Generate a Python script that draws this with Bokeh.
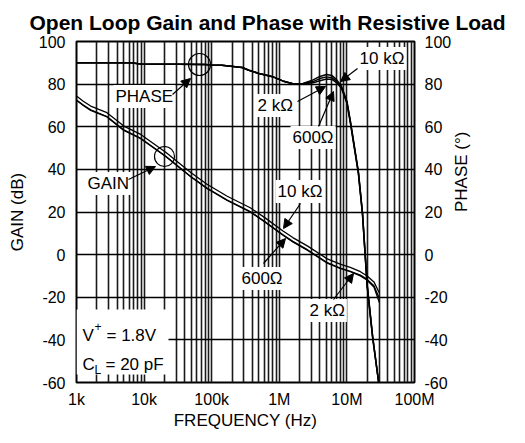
import math
import numpy as np
from bokeh.plotting import figure
from bokeh.models import (Range1d, LinearAxis, FixedTicker, Label, Arrow, NormalHead,
                          BoxAnnotation)
from bokeh.embed import file_html
from bokeh.resources import INLINE

# ---------------- data ----------------
freq_ticks = [1e3, 1e4, 1e5, 1e6, 1e7, 1e8]
freq_tick_labels = ["1k", "10k", "100k", "1M", "10M", "100M"]
y_ticks = [-60, -40, -20, 0, 20, 40, 60, 80, 100]
y_tick_labels = ["-60", "-40", "-20", "0", "20", "40", "60", "80", "100"]

phase_logf = [3.0, 3.8, 3.95, 4.5, 4.9, 5.0, 5.15, 5.25, 5.45, 5.55, 5.7, 5.9, 6.05, 6.2,
              6.35, 6.5, 6.6, 6.7, 6.78, 6.85, 6.92, 7.0, 7.05, 7.1, 7.17, 7.23, 7.30, 7.38, 7.47]
phase_10k = [90, 90, 89.4, 89.3, 89.2, 89.0, 88.8, 88.5, 87.8, 86.5, 85.0, 83.5, 81.5, 80.2,
             80.3, 82.0, 83.6, 84.5, 84.0, 82.0, 79.0, 72.0, 63.0, 53.0, 39.0, 20.0, -14.0, -38.0, -60.0]
phase_2k = [90, 90, 89.4, 89.3, 89.2, 89.0, 88.8, 88.5, 87.8, 86.5, 85.0, 83.5, 81.5, 80.2,
            80.2, 81.2, 82.6, 83.4, 83.0, 81.2, 78.5, 71.5, 62.5, 52.5, 38.5, 19.5, -14.5, -38.5, -60.0]
phase_600 = [90, 90, 89.4, 89.3, 89.2, 89.0, 88.8, 88.5, 87.8, 86.5, 85.0, 83.5, 81.5, 80.2,
             80.0, 80.6, 81.6, 82.4, 82.2, 80.6, 78.0, 71.0, 62.0, 52.0, 38.0, 19.0, -15.0, -39.0, -60.0]

gain_logf = [3.0, 3.1, 3.21, 3.45, 3.7, 3.95, 4.32, 4.69, 4.93, 5.23, 5.57, 5.8, 6.06,
             6.2, 6.42, 6.71, 6.9, 7.05, 7.2, 7.3, 7.4, 7.48]
gain_10k = [74.4, 72.0, 69.7, 66.6, 60.3, 56.4, 48.0, 38.5, 33.0, 27.4, 22.0, 17.0, 11.0,
            8.0, 4.0, -2.0, -4.5, -6.0, -8.0, -10.0, -12.8, -18.0]
gain_2k = [72.6, 70.2, 67.9, 64.8, 58.5, 54.6, 46.2, 36.7, 31.2, 25.6, 20.2, 15.2, 9.2,
           6.2, 2.2, -3.8, -6.3, -7.8, -9.6, -11.6, -14.6, -20.5]
gain_600 = [72.4, 70.0, 67.7, 64.6, 58.3, 54.4, 46.0, 36.5, 31.0, 25.4, 20.0, 15.0, 9.0,
            6.0, 2.0, -4.0, -6.5, -8.0, -10.0, -12.0, -15.2, -22.5]

FL, FR, FT, FB = 76.0, 414.0, 40.0, 381.0
def fx(px):
    return 10 ** (3 + 5 * (px - FL) / (FR - FL))
def vy(py):
    return 100 - 160 * (py - FT) / (FB - FT)

FONT = "Liberation Sans"

p = figure(frame_width=int(FR - FL), frame_height=int(FB - FT), x_axis_type="log",
           x_range=Range1d(1e3, 1e8), y_range=Range1d(-60, 100),
           output_backend="svg", toolbar_location=None,
           min_border_left=int(FL), min_border_right=100,
           min_border_top=int(FT), min_border_bottom=56)
p.extra_y_ranges = {"phase": Range1d(-60, 100)}

p.title.text = "Open Loop Gain and Phase with Resistive Load"
p.title.text_font = FONT
p.title.text_font_size = "21px"
p.title.text_font_style = "bold"
p.title.align = "left"
p.title.offset = -47
p.title.standoff = 16
p.title.text_color = "black"

def style_axis(ax, label):
    ax.axis_label = label
    ax.axis_label_text_font = FONT
    ax.axis_label_text_font_size = "17px"
    ax.axis_label_text_font_style = "normal"
    ax.axis_label_text_color = "black"
    ax.major_label_text_font = FONT
    ax.major_label_text_font_size = "16px"
    ax.major_label_text_color = "black"
    ax.major_tick_line_color = None
    ax.minor_tick_line_color = None
    ax.axis_line_color = None
    ax.major_label_standoff = 8

style_axis(p.xaxis[0], "FREQUENCY (Hz)")
p.xaxis[0].ticker = FixedTicker(ticks=freq_ticks,
                                minor_ticks=[m * d for d in [1e3, 1e4, 1e5, 1e6, 1e7] for m in range(2, 10)])
p.xaxis[0].major_label_overrides = {t: l for t, l in zip(freq_ticks, freq_tick_labels)}
p.xaxis[0].major_label_standoff = 2
p.xaxis[0].axis_label_standoff = 0

style_axis(p.yaxis[0], "GAIN (dB)")
p.yaxis[0].ticker = FixedTicker(ticks=y_ticks)
p.yaxis[0].major_label_overrides = {t: l for t, l in zip(y_ticks, y_tick_labels)}
p.yaxis[0].major_label_standoff = 5
p.yaxis[0].axis_label_standoff = 9

ax_r = LinearAxis(y_range_name="phase", ticker=FixedTicker(ticks=y_ticks))
style_axis(ax_r, "PHASE (°)")
ax_r.major_label_overrides = {t: l for t, l in zip(y_ticks, y_tick_labels)}
ax_r.major_label_standoff = 4
ax_r.axis_label_standoff = 7
ax_r.axis_label_orientation = math.pi / 2
p.add_layout(ax_r, "right")

p.xgrid.grid_line_color = "#1a1a1a"
p.xgrid.grid_line_width = 1.6
p.xgrid.minor_grid_line_color = "#1a1a1a"
p.xgrid.minor_grid_line_width = 1.6
p.ygrid.grid_line_color = "black"
p.ygrid.grid_line_width = 1.3
p.outline_line_color = "black"
p.outline_line_width = 2
p.background_fill_color = "white"
p.border_fill_color = "white"

for vals in (phase_600, phase_2k, phase_10k):
    p.line([10 ** v for v in phase_logf], vals, y_range_name="phase", line_color="black", line_width=1.5)
for vals in (gain_600, gain_2k, gain_10k):
    p.line([10 ** v for v in gain_logf], vals, line_color="black", line_width=1.3)

p.add_layout(BoxAnnotation(left=fx(FL), right=fx(168), top=vy(308), bottom=vy(373),
                           fill_color="white", fill_alpha=1.0, line_color=None, level="annotation"))

def lab(text, px, py, size="17px", baseline="middle", bg=True, align="left"):
    l = Label(x=fx(px), y=vy(py), text=text, text_font=FONT, text_font_size=size,
              text_color="black", text_align=align, text_baseline=baseline)
    if bg:
        l.background_fill_color = "white"
        l.padding = 2
    p.add_layout(l)

def arrow(x0, y0, x1, y1):
    p.add_layout(Arrow(x_start=fx(x0), y_start=vy(y0), x_end=fx(x1), y_end=vy(y1),
                       line_color="black", line_width=1.2,
                       end=NormalHead(size=9, fill_color="black", line_color="black")))

lab("PHASE", 113, 95)
arrow(172, 93, 190, 77)
lab("GAIN", 85, 182)
arrow(128, 178, 155, 165)
lab("10 kΩ", 357, 57)
arrow(357, 67, 340, 80)
lab("2 kΩ", 255, 104)
arrow(297, 100, 325, 85)
lab("600Ω", 290, 136)
arrow(318, 125, 333, 90)
lab("10 kΩ", 275, 190)
arrow(300, 202, 283, 227)
lab("600Ω", 239, 277)
arrow(263, 262, 285, 237)
lab("2 kΩ", 307, 309)
arrow(333, 298, 353, 272)

p.scatter([fx(199), fx(164)], [vy(63), vy(155)], marker="circle", size=[22, 20],
          fill_color=None, line_color="black", line_width=1.2)

lab("V", 82, 334, baseline="alphabetic", bg=False)
lab("+", 94, 325, size="12px", baseline="alphabetic", bg=False)
lab("= 1.8V", 106, 334, baseline="alphabetic", bg=False)
lab("C", 82, 363, baseline="alphabetic", bg=False)
lab("L", 94, 368, size="12px", baseline="alphabetic", bg=False)
lab("= 20 pF", 105, 363, baseline="alphabetic", bg=False)

open("out.html", "w").write(file_html(p, INLINE))
